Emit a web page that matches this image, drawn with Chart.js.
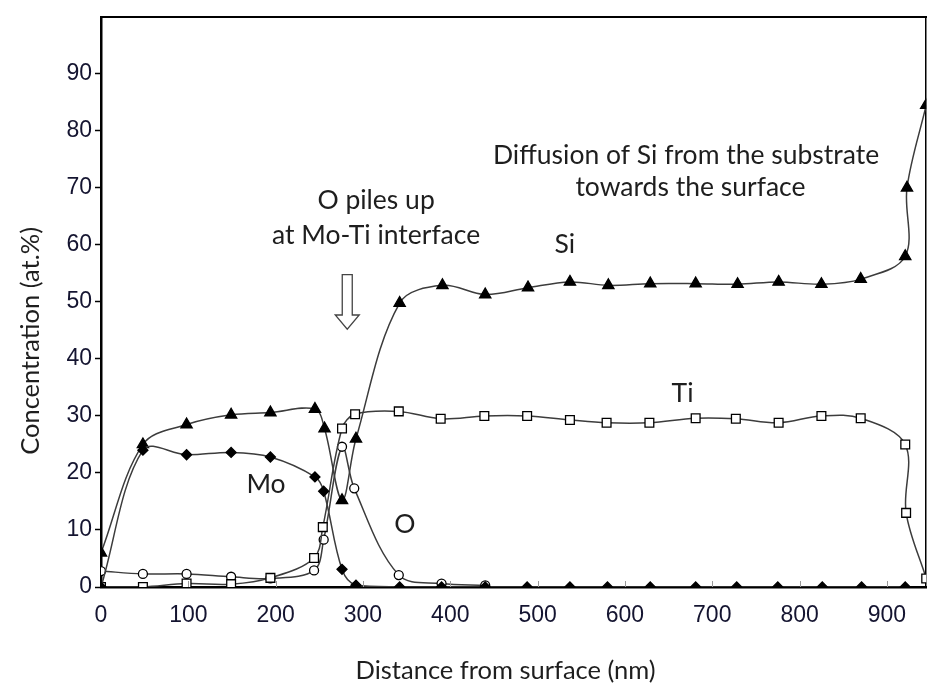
<!DOCTYPE html>
<html><head><meta charset="utf-8">
<script src="https://cdn.jsdelivr.net/npm/chart.js@4/dist/chart.umd.min.js"></script>
<style>html,body{margin:0;padding:0;background:#fff;overflow:hidden}#wrap{width:934px;height:686px;position:relative}</style>
</head><body><div id="wrap"><canvas id="c"></canvas></div>
<script>
// ---- data (depth in nm, concentration in at.%) ----
const siX = [0,48,98,149,194,245,256,276,292,342,391,440,489,537,581,629,681,729,776,825,870,921,923,945];
const siY = [6,25,28.5,30.2,30.6,31.2,27.8,15.2,26,49.8,52.9,51.3,52.5,53.5,52.9,53.2,53.2,53.1,53.5,53.1,54,58,70,84.5];
const tiX = [0,48,98,149,194,244,254,276,291,341,389,439,488,537,579,628,681,727,776,825,870,921,922,945];
const tiY = [0,0,0.6,0.5,1.6,5.1,10.5,27.8,30.3,30.8,29.5,30,30,29.3,28.8,28.8,29.6,29.5,28.8,30,29.6,25,13,1.5];
const moX = [0,48,98,149,194,245,255,276,292,342,390,440,488,537,580,629,681,728,775,826,871,921];
const moY = [0,24,23.2,23.6,22.8,19.3,16.8,3.1,0.3,0,0,0,0,0,0,0,0,0,0,0,0,0];
const oX = [0,48,98,149,194,244,255,276,290,341,390,440];
const oY = [2.8,2.3,2.3,1.8,1.5,2.9,8.3,24.6,17.3,2.1,0.6,0.3];
const xTicks = [0,100,200,300,400,500,600,700,800,900];
const yTicks = [0,10,20,30,40,50,60,70,80,90];
const xTitle = 'Distance from surface (nm)';
const yTitle = 'Concentration (at.%)';
const notes = [
  {text:'Diffusion of Si from the substrate', x:670, y:75.7},
  {text:'towards the surface', x:675, y:70.1},
  {text:'O piles up', x:315, y:67.8},
  {text:'at Mo-Ti interface', x:315, y:61.7},
  {text:'Si', x:531, y:60},
  {text:'Ti', x:666, y:33.9},
  {text:'Mo', x:189, y:17.9},
  {text:'O', x:348, y:11}
];
const arrow = {x:282, top:54.8, neck:47.7, tip:45.2};

const pts = (xs, ys) => xs.map((x, i) => ({x, y: ys[i]}));
const LINE = '#3c3c3c';
const TXT = '#1e1e1e';
const TICK = '#141430';

const decor = {
  id: 'decor',
  afterDatasetsDraw(chart) {
    const {ctx, chartArea: a, scales: {x, y}} = chart;
    ctx.save();
    // small inner ticks on x axis
    ctx.strokeStyle = '#999'; ctx.lineWidth = 1;
    xTicks.forEach(v => { if (v === 0) return; const px = Math.round(x.getPixelForValue(v)) + 0.5; ctx.beginPath(); ctx.moveTo(px, a.bottom); ctx.lineTo(px, a.bottom - 6); ctx.stroke(); });
    // annotations
    ctx.fillStyle = TXT; ctx.font = '26.5px Lato'; ctx.textAlign = 'center'; ctx.textBaseline = 'middle';
    notes.forEach(n => ctx.fillText(n.text, x.getPixelForValue(n.x), y.getPixelForValue(n.y)));
    // hollow arrow
    const ax = x.getPixelForValue(arrow.x), t = y.getPixelForValue(arrow.top), nk = y.getPixelForValue(arrow.neck), tp = y.getPixelForValue(arrow.tip);
    ctx.beginPath();
    ctx.moveTo(ax - 5, t); ctx.lineTo(ax + 5, t); ctx.lineTo(ax + 5, nk); ctx.lineTo(ax + 12, nk);
    ctx.lineTo(ax, tp); ctx.lineTo(ax - 12, nk); ctx.lineTo(ax - 5, nk); ctx.closePath();
    ctx.fillStyle = '#fff'; ctx.fill(); ctx.strokeStyle = '#444'; ctx.lineWidth = 1.3; ctx.stroke();
    // axis titles
    ctx.fillStyle = TXT; ctx.font = '25.5px Lato';
    ctx.fillText(xTitle, (a.left + a.right) / 2 - 8, a.bottom + 84);
    ctx.translate(31, (a.top + a.bottom) / 2 + 39); ctx.rotate(-Math.PI / 2);
    ctx.fillText(yTitle, 0, 0);
    ctx.restore();
  }
};

const common = {borderColor: LINE, borderWidth: 1.5, tension: 0.35, pointBorderColor: '#000', pointBorderWidth: 1.3, fill: false};

new Chart(document.getElementById('c'), {
  type: 'line',
  data: {
    datasets: [
      {...common, label: 'Mo', data: pts(moX, moY), pointStyle: 'rectRot', pointRadius: 5, pointBackgroundColor: '#000'},
      {...common, label: 'Si', data: pts(siX, siY), pointStyle: 'triangle', pointRadius: 6.5, pointBackgroundColor: '#000'},
      {...common, label: 'Ti', data: pts(tiX, tiY), pointStyle: 'rect', pointRadius: 6.2, pointBackgroundColor: '#fff'},
      {...common, label: 'O', data: pts(oX, oY), pointStyle: 'circle', pointRadius: 4.5, pointBackgroundColor: '#fff'}
    ]
  },
  options: {
    responsive: true, maintainAspectRatio: false, animation: false,
    layout: {padding: {top: 12, right: 2, left: 0, bottom: 0}},
    plugins: {legend: {display: false}, tooltip: {enabled: false}},
    scales: {
      x: {
        type: 'linear', min: 0, max: 945,
        afterBuildTicks: s => { s.ticks = xTicks.map(v => ({value: v})); },
        afterFit: s => { s.height = 99; },
        grid: {display: true, drawOnChartArea: false, drawTicks: false},
        border: {display: true, color: '#000', width: 2.5},
        ticks: {color: TICK, font: {family: 'Liberation Sans', size: 23}, padding: 15, maxRotation: 0, autoSkip: false}
      },
      x2: {
        type: 'linear', position: 'top', min: 0, max: 945,
        afterFit: s => { s.height = 0; },
        grid: {display: true, drawOnChartArea: false, drawTicks: false},
        border: {display: true, color: '#000', width: 2},
        ticks: {display: false}
      },
      y: {
        type: 'linear', min: 0, max: 100,
        afterBuildTicks: s => { s.ticks = yTicks.map(v => ({value: v})); },
        afterFit: s => { s.width = 101; },
        grid: {display: true, drawOnChartArea: false, drawTicks: true, tickLength: 6, color: '#000', tickWidth: 1.5},
        border: {display: true, color: '#000', width: 2.5},
        ticks: {color: TICK, font: {family: 'Liberation Sans', size: 23}, padding: 3}
      },
      y2: {
        type: 'linear', position: 'right', min: 0, max: 100,
        afterFit: s => { s.width = 0; },
        grid: {display: true, drawOnChartArea: false, drawTicks: false},
        border: {display: true, color: '#000', width: 1.5},
        ticks: {display: false}
      }
    }
  },
  plugins: [decor]
});
</script></body></html>
